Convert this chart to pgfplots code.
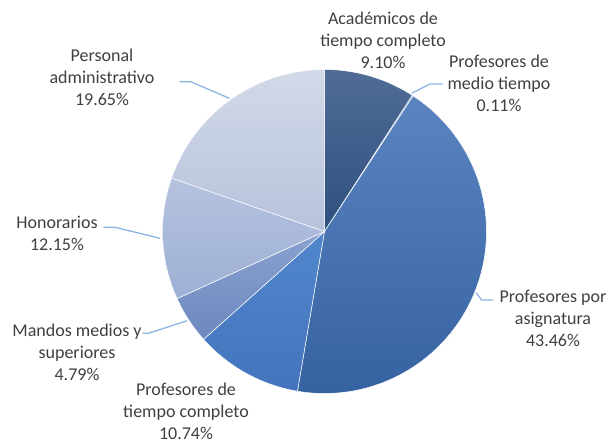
\documentclass[border=0pt]{standalone}
\usepackage{pgfplots}
\pgfplotsset{compat=1.18}
\usepackage{fontspec}
\setmainfont{Carlito}
\definecolor{labelgray}{HTML}{404040}
\definecolor{leader}{HTML}{8FB4E3}
\definecolor{aT}{HTML}{506C96}\definecolor{aB}{HTML}{2E4F7F}
\definecolor{mF}{HTML}{5A7FB8}
\definecolor{sT}{HTML}{5B84C0}\definecolor{sB}{HTML}{3562A1}
\definecolor{pT}{HTML}{5186CC}\definecolor{pB}{HTML}{4374BD}
\definecolor{dT}{HTML}{8AA2CF}\definecolor{dB}{HTML}{6D88BF}
\definecolor{hT}{HTML}{B6C3DF}\definecolor{hB}{HTML}{9DAFD4}
\definecolor{qT}{HTML}{D2D9E8}\definecolor{qB}{HTML}{B7C2DC}
\tikzset{lbl/.style={font=\fontsize{18}{22}\selectfont, text=labelgray, align=center, inner sep=0pt}}
\begin{document}
\begin{tikzpicture}
% shares (%) clockwise from 12 o'clock:
% Academicos TC 9.10, Prof. medio tiempo 0.11, Prof. asignatura 43.46,
% Prof. tiempo completo 10.74, Mandos medios 4.79, Honorarios 12.15, Personal admin. 19.65
\begin{axis}[
  width=610pt, height=443pt, scale only axis,
  xmin=0, xmax=610, ymin=0, ymax=443,
  hide axis, clip=false,
]
% slices (angle = 90 - cumulative share * 3.6)
\addplot[draw=white, line width=0.5pt, top color=aT, bottom color=aB, domain=57.24:90, samples=60]
  ({324.5+162*cos(x)},{211.5+162*sin(x)}) -- (axis cs:324.5,211.5) -- cycle;
\addplot[draw=white, line width=0.3pt, fill=mF, domain=56.844:57.24, samples=5]
  ({324.5+162*cos(x)},{211.5+162*sin(x)}) -- (axis cs:324.5,211.5) -- cycle;
\addplot[draw=white, line width=0.5pt, top color=sT, bottom color=sB, domain=-99.612:56.844, samples=160]
  ({324.5+162*cos(x)},{211.5+162*sin(x)}) -- (axis cs:324.5,211.5) -- cycle;
\addplot[draw=white, line width=0.5pt, top color=pT, bottom color=pB, domain=-138.276:-99.612, samples=60]
  ({324.5+162*cos(x)},{211.5+162*sin(x)}) -- (axis cs:324.5,211.5) -- cycle;
\addplot[draw=white, line width=0.5pt, top color=dT, bottom color=dB, domain=-155.52:-138.276, samples=40]
  ({324.5+162*cos(x)},{211.5+162*sin(x)}) -- (axis cs:324.5,211.5) -- cycle;
\addplot[draw=white, line width=0.5pt, top color=hT, bottom color=hB, domain=-199.26:-155.52, samples=60]
  ({324.5+162*cos(x)},{211.5+162*sin(x)}) -- (axis cs:324.5,211.5) -- cycle;
\addplot[draw=white, line width=0.5pt, top color=qT, bottom color=qB, domain=-270:-199.26, samples=80]
  ({324.5+162*cos(x)},{211.5+162*sin(x)}) -- (axis cs:324.5,211.5) -- cycle;
% leader lines
\addplot[leader, line width=1.3pt] coordinates {(179.3,361.3) (190.7,361.3) (229.3,344.7)};
\addplot[leader, line width=1.3pt] coordinates {(442.7,359) (430,359) (411.7,349.7)};
\addplot[leader, line width=1.3pt] coordinates {(103.3,215.7) (115,215.7) (160,204.7)};
\addplot[leader, line width=1.3pt] coordinates {(142.7,109.7) (148.3,109.7) (187.3,122.3)};
\addplot[leader, line width=1.3pt] coordinates {(476,150.3) (481.7,143) (493.3,143)};
% labels
\node[lbl] at (axis cs:383,403) {Académicos de\\tiempo completo\\9.10\%};
\node[lbl] at (axis cs:499,360) {Profesores de\\medio tiempo\\0.11\%};
\node[lbl] at (axis cs:553,125) {Profesores por\\asignatura\\43.46\%};
\node[lbl] at (axis cs:186,32) {Profesores de\\tiempo completo\\10.74\%};
\node[lbl] at (axis cs:77,91) {Mandos medios y\\superiores\\4.79\%};
\node[lbl] at (axis cs:57,210) {Honorarios\\12.15\%};
\node[lbl] at (axis cs:102,366) {Personal\\administrativo\\19.65\%};
\end{axis}
\pgfresetboundingbox
\useasboundingbox (current axis.south west) rectangle (current axis.north east);
\end{tikzpicture}
\end{document}
